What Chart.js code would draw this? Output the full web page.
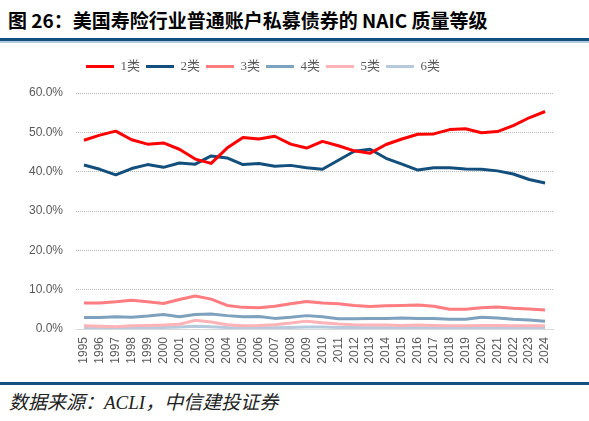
<!DOCTYPE html>
<html>
<head>
<meta charset="utf-8">
<script src="https://cdn.jsdelivr.net/npm/chart.js@4.4.0/dist/chart.umd.min.js"></script>
<style>
  html, body { margin: 0; padding: 0; background: #fff; }
  body { width: 589px; height: 421px; position: relative; overflow: hidden; }
  .title {
    position: absolute; left: 8px; top: 8px;
    font: bold 19px "Noto Sans CJK SC", sans-serif; line-height: 24px; color: #000;
    white-space: nowrap;
  }
  .rule-top { position: absolute; left: 0; top: 38px; width: 589px; height: 3px; background: #154f7f; }
  .rule-top2 { position: absolute; left: 0; top: 41px; width: 589px; height: 2px; background: #b4cbe0; }
  .chart-box { position: absolute; left: 0; top: 46px; width: 589px; height: 328px; }
  .rule-bottom { position: absolute; left: 0; top: 382px; width: 589px; height: 2.5px; background: #154f7f; }
  .source {
    position: absolute; left: 9px; top: 391px;
    font: italic 19px "Liberation Serif", "Noto Sans CJK SC", serif; line-height: 24px; color: #222;
    white-space: nowrap;
  }
</style>
</head>
<body>
<div class="title">图 26：美国寿险行业普通账户私募债券的 NAIC 质量等级</div>
<div class="rule-top"></div>
<div class="rule-top2"></div>
<div class="chart-box"><canvas id="naicChart"></canvas></div>
<div class="rule-bottom"></div>
<div class="source">数据来源：ACLI，中信建投证券</div>

<script>
  const years = ['1995', '1996', '1997', '1998', '1999', '2000', '2001', '2002', '2003', '2004',
    '2005', '2006', '2007', '2008', '2009', '2010', '2011', '2012', '2013', '2014',
    '2015', '2016', '2017', '2018', '2019', '2020', '2021', '2022', '2023', '2024'];

  const seriesNames = ['1类', '2类', '3类', '4类', '5类', '6类'];

  // % of holdings per NAIC class
  const class1 = [48.0, 49.3, 50.3, 48.1, 47.0, 47.3, 45.7, 43.2, 42.1, 46.0,
    48.7, 48.3, 49.0, 47.0, 46.0, 47.7, 46.6, 45.3, 44.7, 46.9,
    48.3, 49.5, 49.6, 50.7, 50.9, 49.9, 50.2, 51.7, 53.7, 55.3];
  const class2 = [41.7, 40.6, 39.2, 40.8, 41.8, 41.1, 42.2, 41.9, 44.0, 43.5,
    41.8, 42.1, 41.4, 41.6, 41.0, 40.6, 42.9, 45.2, 45.7, 43.4,
    41.9, 40.4, 41.0, 41.0, 40.7, 40.6, 40.2, 39.4, 38.0, 37.1];
  const class3 = [6.6, 6.6, 6.9, 7.3, 6.9, 6.5, 7.5, 8.4, 7.6, 6.0,
    5.5, 5.4, 5.8, 6.4, 7.0, 6.6, 6.4, 6.0, 5.7, 5.9,
    6.0, 6.1, 5.8, 5.0, 5.0, 5.4, 5.6, 5.3, 5.1, 4.8];
  const class4 = [2.9, 2.9, 3.1, 3.0, 3.3, 3.7, 3.1, 3.7, 3.8, 3.4,
    3.1, 3.2, 2.7, 3.0, 3.4, 3.1, 2.6, 2.6, 2.7, 2.7,
    2.8, 2.7, 2.7, 2.5, 2.5, 3.0, 2.8, 2.5, 2.3, 2.0];
  const class5 = [0.8, 0.7, 0.6, 0.8, 0.9, 1.0, 1.2, 2.2, 1.8, 1.1,
    0.8, 0.9, 1.1, 1.5, 2.0, 1.6, 1.3, 1.1, 1.0, 1.0,
    0.9, 1.0, 0.9, 0.8, 0.8, 0.9, 0.9, 0.8, 0.8, 0.8];
  const class6 = [0.3, 0.3, 0.3, 0.3, 0.3, 0.4, 0.5, 0.7, 0.6, 0.4,
    0.3, 0.3, 0.3, 0.4, 0.5, 0.5, 0.4, 0.4, 0.3, 0.3,
    0.3, 0.3, 0.3, 0.3, 0.3, 0.4, 0.4, 0.3, 0.3, 0.3];

  const yTicks = [0, 10, 20, 30, 40, 50, 60];

  const colors = ['#ff0000', '#134f7c', '#ff7c80', '#7ea1be', '#ffb3b6', '#b6cadd'];
  const values = [class1, class2, class3, class4, class5, class6];

  // legend sits a bit left of centre and leaves a gap above the plot
  const legendTweak = {
    id: 'legendTweak',
    beforeInit(chart) {
      const origFit = chart.legend.fit;
      chart.legend.fit = function () {
        origFit.call(this);
        this.height = 39;
      };
    },
    afterLayout(chart) {
      chart.legend.left = 80;
    }
  };

  const ctx = document.getElementById('naicChart').getContext('2d');
  new Chart(ctx, {
    type: 'line',
    data: {
      labels: years,
      datasets: seriesNames.map((name, i) => ({
        label: name,
        data: values[i],
        borderColor: colors[i],
        backgroundColor: colors[i],
        borderWidth: 3,
        pointRadius: 0,
        pointStyle: 'line',
        tension: 0,
        borderJoinStyle: 'round'
      }))
    },
    options: {
      responsive: true,
      maintainAspectRatio: false,
      animation: false,
      layout: { padding: { top: 8, right: 36, left: 0, bottom: 0 } },
      scales: {
        x: {
          offset: true,
          grid: { display: false, drawTicks: false },
          border: { color: '#d9d9d9', width: 1 },
          ticks: {
            autoSkip: false,
            minRotation: 90,
            maxRotation: 90,
            padding: 8,
            color: '#595959',
            font: { family: 'Liberation Sans, Arial, sans-serif', size: 12 }
          },
          afterFit(scale) { scale.height = 45; }
        },
        y: {
          min: 0,
          max: 60,
          afterBuildTicks(scale) { scale.ticks = yTicks.map(v => ({ value: v })); },
          grid: { color: '#a6a6a6', lineWidth: 0.8, drawTicks: false },
          border: { display: false, dash: [1, 1] },
          ticks: {
            padding: 13,
            color: '#595959',
            font: { family: 'Liberation Sans, Arial, sans-serif', size: 12 },
            callback: v => v.toFixed(1) + '%'
          },
          afterFit(scale) { scale.width = 76; }
        }
      },
      plugins: {
        legend: {
          position: 'top',
          align: 'start',
          labels: {
            usePointStyle: true,
            pointStyle: 'line',
            pointStyleWidth: 28,
            padding: 6,
            color: '#595959',
            font: { family: 'Liberation Serif, "Noto Sans CJK SC", serif', size: 13 }
          }
        },
        tooltip: { enabled: false }
      }
    },
    plugins: [legendTweak]
  });
</script>
</body>
</html>
